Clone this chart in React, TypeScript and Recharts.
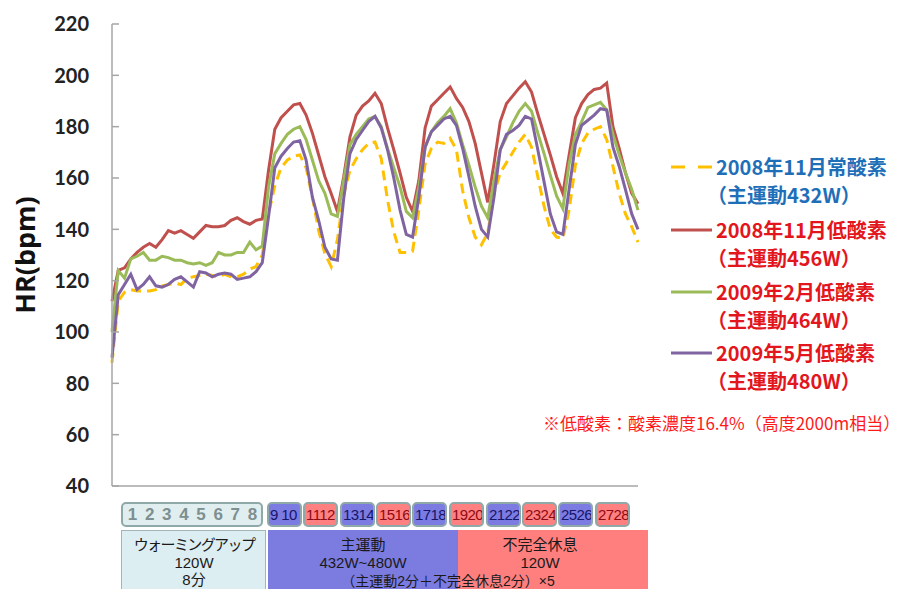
import React from 'react';
import { LineChart, Line, XAxis, YAxis } from 'recharts';

// elapsed time (seconds) of each sample
const seconds = [
  0, 20, 40, 60, 80, 100, 120, 140, 160, 180, 200, 220, 240, 260, 280, 300, 320, 340, 360, 380,
  400, 420, 440, 460, 480, 500, 520, 540, 560, 580, 600, 620, 640, 660, 680, 700, 720, 740, 760, 780,
  800, 820, 840, 860, 880, 900, 920, 940, 960, 980, 1000, 1020, 1040, 1060, 1080, 1100, 1120, 1140, 1160, 1180,
  1200, 1220, 1240, 1260, 1280, 1300, 1320, 1340, 1360, 1380, 1400, 1420, 1440, 1460, 1480, 1500, 1520, 1540, 1560, 1580,
  1600, 1620, 1640, 1660, 1680,
];

// 2008年11月 常酸素 (主運動432W)
const normoxia0811 = [
  88, 112, 115.5, 116.5, 116, 116, 116, 116.5, 118, 118.5,
  119, 118.5, 121, 121.5, 122, 122.5, 122, 121.5, 122.5, 121.5,
  121.5, 122.5, 124.5, 125.5, 130, 146, 157, 164, 167, 168.5,
  169, 164, 152.5, 139.5, 130.5, 125.5, 136, 153.5, 163, 167.5,
  171, 173.5, 174, 167.5, 151.5, 139, 131, 131, 131.5, 147.5,
  165.5, 171.5, 174, 173.5, 175.5, 171, 155, 144.5, 137, 134,
  138.5, 154, 162, 166, 170, 174, 177, 172, 160.5, 149,
  140, 137, 136.5, 147.5, 165, 173.5, 177.5, 179, 180, 175,
  164.5, 154, 146, 141, 135,
];

// 2008年11月 低酸素 (主運動456W)
const hypoxia0811 = [
  112, 124, 125, 128.5, 131, 133, 134.5, 133, 136, 139.5,
  138.5, 139.5, 138, 136.5, 139, 141.5, 141, 141, 141.5, 143.5,
  144.5, 143, 142, 143.5, 144, 163, 179, 183.5, 186, 188.5,
  189, 184.5, 177.5, 169, 160.5, 154, 147, 160.5, 176, 184.5,
  188, 190, 193, 189, 179.5, 171, 162, 152.5, 147, 159,
  179.5, 188, 190.5, 193, 195.5, 191, 187.5, 182, 173.5, 162,
  150.5, 165.5, 182, 189, 192, 195, 197.5, 193.5, 185, 177,
  169, 160.5, 154, 169, 183.5, 189, 192.5, 194.5, 195, 197,
  180, 171.5, 162, 154, 150,
];

// 2009年2月 低酸素 (主運動464W)
const hypoxia0902 = [
  100, 124, 121, 128.5, 129.5, 131, 128, 128, 129.5, 129,
  128, 128, 127, 126.5, 127, 126, 127, 131, 130, 130,
  131, 131, 135, 132, 133.5, 156.5, 169.5, 173.5, 177, 179,
  180, 175, 167, 159, 154, 146, 145, 159, 173, 177,
  180, 183, 184, 180, 171.5, 164, 156.5, 147, 144.5, 156.5,
  172, 178, 181.5, 184, 187, 181.5, 173, 165, 156.5, 149,
  144.5, 159, 171, 176, 181.5, 186, 189, 186, 177.5, 169.5,
  161, 153, 148, 165.5, 177, 182, 187.5, 188.5, 189.5, 186.5,
  177, 169, 162, 155.5, 147.5,
];

// 2009年5月 低酸素 (主運動480W)
const hypoxia0905 = [
  90, 114.5, 118.5, 122.5, 116.5, 118.5, 121.5, 118, 117.5, 118.5,
  120.5, 121.5, 119.5, 117.5, 123.5, 123, 121.5, 122.5, 123, 122.5,
  120.5, 121, 121.5, 123.5, 127, 145, 164, 168.5, 171.5, 174,
  174.5, 167, 152.5, 143.5, 133, 128.5, 128, 152, 169.5, 175,
  178.5, 182, 184, 179.5, 171, 160, 147.5, 138, 137, 152.5,
  172, 178, 180.5, 183, 184, 180.5, 171.5, 160.5, 149, 140,
  137, 152.5, 171, 177, 178.5, 180.5, 184, 183, 171, 158.5,
  146, 139, 138, 155.5, 173, 180.5, 182.5, 184.5, 187, 186.5,
  172, 164.5, 155.5, 146, 140,
];

const yTicks = [40, 60, 80, 100, 120, 140, 160, 180, 200, 220];

const seriesKeys = ['n0811', 'h0811', 'h0902', 'h0905'];
const seriesColors = ['#FFC000', '#C0504D', '#9BBB59', '#8064A2'];
const legendLine1 = ['2008年11月常酸素', '2008年11月低酸素', '2009年2月低酸素', '2009年5月低酸素'];
const legendLine2 = ['（主運動432W）', '（主運動456W）', '（主運動464W）', '（主運動480W）'];
const legendTextColors = ['#1F6FB8', '#E3161D', '#E3161D', '#E3161D'];
const noteText = '※低酸素：酸素濃度16.4%（高度2000m相当）';

const warmupMinutes = ['1', '2', '3', '4', '5', '6', '7', '8'];
const mainMinutePairs = ['9 10', '1112', '1314', '1516', '1718', '1920', '2122', '2324', '2526', '2728'];
const phaseNames = ['ウォーミングアップ', '主運動', '不完全休息'];
const phaseLoads = ['120W', '432W~480W', '120W'];
const warmupDuration = '8分';
const cycleNote = '（主運動2分＋不完全休息2分）×5';

const data = seconds.map((s, i) => ({
  sec: s,
  n0811: normoxia0811[i],
  h0811: hypoxia0811[i],
  h0902: hypoxia0902[i],
  h0905: hypoxia0905[i],
}));

const AXIS_GRAY = '#A6A6A6';

const YTick = (props: any) => {
  const { y, payload } = props;
  return (
    <g>
      <line x1={112} x2={119} y1={y} y2={y} stroke={AXIS_GRAY} strokeWidth={1.5} />
      <text
        x={89}
        y={y}
        dy="0.36em"
        textAnchor="end"
        fill="#222"
        fontFamily="Lato, 'Open Sans', sans-serif"
        fontWeight={700}
        fontSize={20}
      >
        {payload.value}
      </text>
    </g>
  );
};

const CJK = "'Liberation Sans', 'Noto Sans CJK JP', sans-serif";

export default function App() {
  const legendY = [167, 230, 292, 353];
  const pairLefts = [267, 303, 340, 376, 412, 449, 486, 522, 558, 595];
  return (
    <div
      style={{
        position: 'absolute',
        left: 0,
        top: 0,
        width: 903,
        height: 589,
        background: '#fff',
        overflow: 'hidden',
      }}
    >
      <LineChart
        width={903}
        height={589}
        data={data}
        margin={{ top: 24, right: 265, bottom: 102, left: 0 }}
      >
        <XAxis
          dataKey="sec"
          type="number"
          domain={[0, 1680]}
          tick={false}
          tickLine={false}
          height={1}
          axisLine={{ stroke: AXIS_GRAY, strokeWidth: 1.5 }}
        />
        <YAxis
          type="number"
          domain={[40, 220]}
          ticks={yTicks}
          width={112}
          interval={0}
          tickLine={false}
          axisLine={{ stroke: AXIS_GRAY, strokeWidth: 1.5 }}
          tick={<YTick />}
        />
        <Line
          dataKey={seriesKeys[0]}
          stroke={seriesColors[0]}
          strokeWidth={3}
          strokeDasharray="10 6"
          dot={false}
          type="linear"
          isAnimationActive={false}
        />
        <Line dataKey={seriesKeys[1]} stroke={seriesColors[1]} strokeWidth={3} dot={false} type="linear" isAnimationActive={false} />
        <Line dataKey={seriesKeys[2]} stroke={seriesColors[2]} strokeWidth={3} dot={false} type="linear" isAnimationActive={false} />
        <Line dataKey={seriesKeys[3]} stroke={seriesColors[3]} strokeWidth={3} dot={false} type="linear" isAnimationActive={false} />
      </LineChart>

      {/* Y axis title */}
      <div
        style={{
          position: 'absolute',
          left: 24,
          top: 255,
          transform: 'translate(-50%, -50%) rotate(-90deg)',
          fontFamily: "'Open Sans', sans-serif",
          fontWeight: 700,
          fontSize: 27,
          color: '#111',
          whiteSpace: 'nowrap',
        }}
      >
        HR(bpm)
      </div>

      {/* Legend */}
      {legendLine1.map((t, k) => (
        <React.Fragment key={k}>
          <svg
            style={{ position: 'absolute', left: 670, top: legendY[k] - 3 }}
            width={44}
            height={6}
          >
            <line
              x1={1}
              x2={42}
              y1={3}
              y2={3}
              stroke={seriesColors[k]}
              strokeWidth={3}
              strokeDasharray={k === 0 ? '14 13' : undefined}
            />
          </svg>
          <div
            style={{
              position: 'absolute',
              left: 716,
              top: legendY[k] - 14,
              height: 28,
              lineHeight: '28px',
              fontFamily: "'Noto Sans CJK JP', sans-serif",
              fontWeight: 700,
              fontSize: 20,
              color: legendTextColors[k],
              whiteSpace: 'nowrap',
            }}
          >
            {t}
          </div>
          <div
            style={{
              position: 'absolute',
              left: 707,
              top: legendY[k] + 28 - 14,
              height: 28,
              lineHeight: '28px',
              fontFamily: "'Noto Sans CJK JP', sans-serif",
              fontWeight: 700,
              fontSize: 20,
              color: legendTextColors[k],
              whiteSpace: 'nowrap',
            }}
          >
            {legendLine2[k]}
          </div>
        </React.Fragment>
      ))}

      {/* Note */}
      <div
        style={{
          position: 'absolute',
          left: 543,
          top: 423 - 13,
          height: 26,
          lineHeight: '26px',
          fontFamily: "'Noto Sans CJK JP', sans-serif",
          fontSize: 17,
          color: '#FF1A1A',
          whiteSpace: 'nowrap',
        }}
      >
        {noteText}
      </div>

      {/* Minute header row */}
      <div
        style={{
          position: 'absolute',
          left: 121,
          top: 502,
          width: 142,
          height: 25,
          boxSizing: 'border-box',
          border: '2px solid #8FA9A9',
          borderRadius: 5,
          background: '#E1EEEF',
          display: 'flex',
          alignItems: 'center',
          paddingLeft: 1,
        }}
      >
        {warmupMinutes.map((m) => (
          <span
            key={m}
            style={{
              width: 17.5,
              textAlign: 'center',
              fontFamily: "'Liberation Sans', sans-serif",
              fontWeight: 700,
              fontSize: 17,
              color: '#7D8F8F',
            }}
          >
            {m}
          </span>
        ))}
      </div>
      {mainMinutePairs.map((p, k) => (
        <div
          key={p}
          style={{
            position: 'absolute',
            left: pairLefts[k],
            top: 502,
            width: 35,
            height: 25,
            boxSizing: 'border-box',
            border: '2px solid #8FA9A9',
            borderRadius: 5,
            background: k % 2 === 0 ? '#7B7BE2' : '#FF8080',
            overflow: 'hidden',
            whiteSpace: 'nowrap',
            paddingLeft: 1,
            letterSpacing: -0.6,
            lineHeight: '21px',
            fontFamily: "'Liberation Sans', sans-serif",
            fontSize: 15,
            color: k % 2 === 0 ? '#15156A' : '#8E0A14',
          }}
        >
          {p}
        </div>
      ))}

      {/* Phase table */}
      <div
        style={{
          position: 'absolute',
          left: 121,
          top: 530,
          width: 145,
          height: 70,
          boxSizing: 'border-box',
          border: '1.5px solid #A3B6B6',
          background: '#DDEEF2',
        }}
      />
      <div
        style={{
          position: 'absolute',
          left: 268,
          top: 530,
          width: 190,
          height: 70,
          background: '#7B7BE0',
        }}
      />
      <div
        style={{
          position: 'absolute',
          left: 458,
          top: 530,
          width: 190,
          height: 70,
          background: '#FF7F7F',
        }}
      />
      {[194, 363, 540].map((cx, k) => (
        <React.Fragment key={k}>
          <div
            style={{
              position: 'absolute',
              left: cx - 100,
              width: 200,
              top: 545 - 10,
              lineHeight: '20px',
              textAlign: 'center',
              fontFamily: CJK,
              fontSize: 15,
              letterSpacing: k === 0 ? -1.6 : 0,
              color: '#1A1A1A',
              whiteSpace: 'nowrap',
            }}
          >
            {phaseNames[k]}
          </div>
          <div
            style={{
              position: 'absolute',
              left: cx - 100,
              width: 200,
              top: 563 - 10,
              lineHeight: '20px',
              textAlign: 'center',
              fontFamily: CJK,
              fontSize: 15,
              color: '#1A1A1A',
              whiteSpace: 'nowrap',
            }}
          >
            {phaseLoads[k]}
          </div>
        </React.Fragment>
      ))}
      <div
        style={{
          position: 'absolute',
          left: 194 - 100,
          width: 200,
          top: 580 - 10,
          lineHeight: '20px',
          textAlign: 'center',
          fontFamily: CJK,
          fontSize: 15,
          color: '#1A1A1A',
        }}
      >
        {warmupDuration}
      </div>
      <div
        style={{
          position: 'absolute',
          left: 448 - 150,
          width: 300,
          top: 581 - 9,
          lineHeight: '18px',
          textAlign: 'center',
          fontFamily: CJK,
          fontSize: 14,
          color: '#1A1A1A',
          whiteSpace: 'nowrap',
        }}
      >
        {cycleNote}
      </div>
    </div>
  );
}
